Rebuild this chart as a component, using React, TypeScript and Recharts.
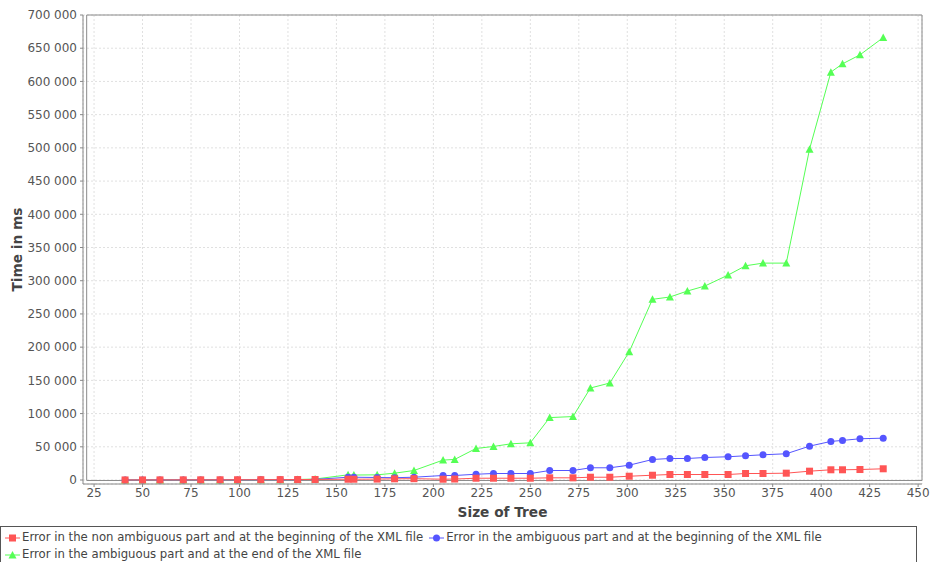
import { LineChart, Line, XAxis, YAxis, CartesianGrid, ReferenceArea } from 'recharts'

// tree sizes (shared by the three runs)
const treeSizes = [41, 50, 59, 71, 80, 90, 99, 111, 121, 130, 139, 156, 159, 171, 180, 190, 205, 211, 222, 231, 240, 250, 260, 272, 281, 291, 301, 313, 322, 331, 340, 352, 361, 370, 382, 394, 405, 411, 420, 432]

// time in ms
const nonAmbiguousBegin = [100, 150, 200, 250, 300, 350, 400, 500, 600, 700, 800, 1200, 1200, 1400, 1800, 2000, 1200, 1500, 2700, 2700, 2700, 2700, 3300, 3300, 4200, 4200, 5700, 7200, 8300, 8300, 8300, 8300, 9800, 9800, 10300, 13300, 15400, 15400, 15800, 16900]
const ambiguousBegin = [50, 80, 100, 120, 150, 180, 200, 250, 300, 600, 900, 4200, 4200, 3800, 3500, 4200, 6800, 6800, 8700, 9800, 9800, 9800, 14300, 14300, 18400, 18400, 22300, 30900, 32400, 32400, 33900, 35000, 36500, 38000, 39500, 51000, 58100, 59600, 62100, 63000]
const ambiguousEnd = [50, 80, 100, 120, 150, 180, 200, 250, 300, 800, 1500, 7800, 7500, 7800, 10300, 14300, 30000, 31000, 47500, 50500, 54500, 56000, 94000, 95500, 138500, 146000, 193000, 272000, 275500, 284500, 292000, 308500, 322500, 326500, 326500, 498000, 614000, 626500, 640000, 666000]

const xTicks = [25, 50, 75, 100, 125, 150, 175, 200, 225, 250, 275, 300, 325, 350, 375, 400, 425, 450]
const yTicks = [0, 50000, 100000, 150000, 200000, 250000, 300000, 350000, 400000, 450000, 500000, 550000, 600000, 650000, 700000]

const seriesNames = [
  'Error in the non ambiguous part and at the beginning of the XML file',
  'Error in the ambiguous part and at the beginning of the XML file',
  'Error in the ambiguous part and at the end of the XML file',
]

const data = treeSizes.map((size, i) => ({
  size,
  red: nonAmbiguousBegin[i],
  blue: ambiguousBegin[i],
  green: ambiguousEnd[i],
}))

const RED = '#FF5555'
const BLUE = '#5555FF'
const GREEN = '#55FF55'
const FONT = '"DejaVu Sans", Verdana, sans-serif'

const fmt = (v: number) => String(v).replace(/\B(?=(\d{3})+(?!\d))/g, ' ')

const square = (p: any) => (
  <rect key={p.key} x={p.cx - 3.5} y={p.cy - 3.5} width={7} height={7} fill={RED} />
)
const circle = (p: any) => <circle key={p.key} cx={p.cx} cy={p.cy} r={3.5} fill={BLUE} />
const triangle = (p: any) => (
  <path key={p.key} d={`M${p.cx},${p.cy - 4}L${p.cx + 4},${p.cy + 3.5}L${p.cx - 4},${p.cy + 3.5}Z`} fill={GREEN} />
)

function LegendIcon({ color, kind }: { color: string; kind: string }) {
  return (
    <svg width={15} height={10} style={{ verticalAlign: 'middle', marginRight: 2 }}>
      <line x1={0} y1={5} x2={15} y2={5} stroke={color} strokeWidth={1} />
      {kind === 'square' && <rect x={4} y={1.5} width={7} height={7} fill={color} />}
      {kind === 'circle' && <circle cx={7.5} cy={5} r={3.5} fill={color} />}
      {kind === 'triangle' && <path d="M7.5,1L11.5,8.5L3.5,8.5Z" fill={color} />}
    </svg>
  )
}

export default function App() {
  return (
    <div style={{ position: 'relative', width: 932, height: 562, background: '#fff', overflow: 'hidden', fontFamily: FONT }}>
      <style>{`body{margin:0}`}</style>
      <LineChart width={932} height={526} data={data} margin={{ top: 15, right: 10, left: 0, bottom: 0 }}>
        <CartesianGrid stroke="#e0e0e0" strokeDasharray="2 2" />
        <ReferenceArea x1={21.2} x2={452} y1={-700} y2={700000} fill="none" stroke="#8a8a8a" strokeWidth={1} ifOverflow="visible" />
        <XAxis
          dataKey="size"
          type="number"
          domain={[19.3, 452]}
          ticks={xTicks}
          allowDataOverflow
          height={42}
          tickSize={3}
          tickMargin={1}
          stroke="#888"
          tick={{ fill: '#555', fontSize: 12, fontFamily: FONT }}
          label={{ value: 'Size of Tree', position: 'insideBottom', offset: 9, style: { fill: '#444', fontSize: 13.7, fontWeight: 'bold', fontFamily: FONT } }}
        />
        <YAxis
          type="number"
          domain={[-6000, 700000]}
          ticks={yTicks}
          allowDataOverflow
          width={83}
          tickSize={3}
          tickMargin={3}
          stroke="#888"
          tickFormatter={fmt}
          tick={{ fill: '#555', fontSize: 12, fontFamily: FONT }}
          label={{ value: 'Time in ms', angle: -90, position: 'insideLeft', offset: 17, style: { textAnchor: 'middle', fill: '#444', fontSize: 13.7, fontWeight: 'bold', fontFamily: FONT } }}
        />
        <Line dataKey="green" name={seriesNames[2]} stroke={GREEN} strokeWidth={1} dot={triangle} isAnimationActive={false} />
        <Line dataKey="blue" name={seriesNames[1]} stroke={BLUE} strokeWidth={1} dot={circle} isAnimationActive={false} />
        <Line dataKey="red" name={seriesNames[0]} stroke={RED} strokeWidth={1} dot={square} isAnimationActive={false} />
      </LineChart>
      <div
        style={{
          position: 'absolute',
          left: 0,
          top: 526,
          width: 917,
          height: 44,
          border: '1px solid #555',
          fontSize: 11.7,
          color: '#444',
          lineHeight: '17px',
          padding: '2px 0 0 4px',
          boxSizing: 'border-box',
        }}
      >
        <div>
          <span style={{ marginRight: 6 }}>
            <LegendIcon color={RED} kind="square" />
            {seriesNames[0]}
          </span>
          <span>
            <LegendIcon color={BLUE} kind="circle" />
            {seriesNames[1]}
          </span>
        </div>
        <div>
          <LegendIcon color={GREEN} kind="triangle" />
          {seriesNames[2]}
        </div>
      </div>
    </div>
  )
}
